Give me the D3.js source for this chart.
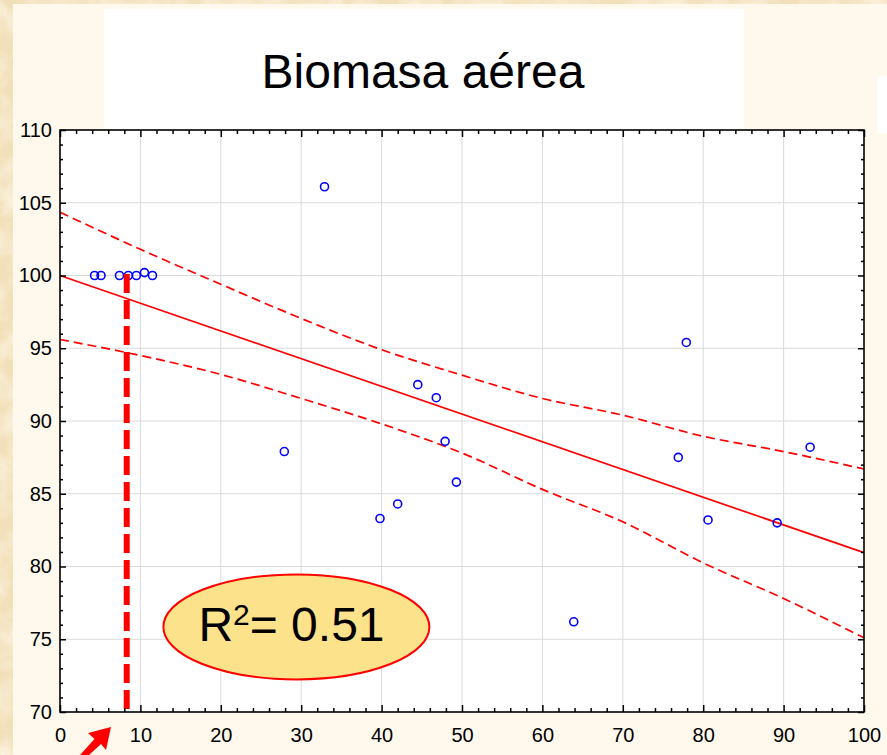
<!DOCTYPE html>
<html>
<head>
<meta charset="utf-8">
<script src="https://cdn.jsdelivr.net/npm/d3@7"></script>
<style>
  html, body { margin: 0; padding: 0; background: #f4e4c2; }
  svg { display: block; }
</style>
</head>
<body>
<svg id="chart" width="887" height="755"></svg>
<script>
// Observations: cover (%) vs aboveground biomass
const pointsX = [4.3, 5.1, 7.4, 8.5, 9.5, 10.5, 11.5, 27.9, 32.9, 39.8, 42.0, 44.5, 46.8, 47.9, 49.3, 63.9, 76.9, 77.9, 80.6, 89.2, 93.3];
const pointsY = [100.0, 100.0, 100.0, 100.0, 100.0, 100.2, 100.0, 87.9, 106.1, 83.3, 84.3, 92.5, 91.6, 88.6, 85.8, 76.2, 87.5, 95.4, 83.2, 83.0, 88.2];

// Fitted line and its confidence band
const fitX = [0, 100];
const fitY = [100.0, 80.95];
const bandX = [0, 10, 20, 30, 40, 50, 60, 70, 80, 90, 100];
const bandUpper = [104.35, 101.8, 99.4, 97.05, 94.9, 93.15, 91.55, 90.4, 88.95, 87.9, 86.7];
const bandLower = [95.6, 94.5, 93.2, 91.55, 89.8, 87.8, 85.3, 83.07, 80.25, 77.8, 75.1];

// Threshold marker
const markerX = 8.3;
const markerTop = 100.1;

// Axis ticks
const xTicks = [0, 10, 20, 30, 40, 50, 60, 70, 80, 90, 100];
const yTicks = [70, 75, 80, 85, 90, 95, 100, 105, 110];
const xMinor = d3.range(0, 101, 2).filter(v => v % 10 !== 0);
const yMinor = d3.range(70, 111, 1).filter(v => v % 5 !== 0);

const titleText = "Biomasa aérea";
const r2Value = 0.51;

const svg = d3.select("#chart");
const W = 887, H = 755;
const plotL = 60, plotR = 864, plotT = 130, plotB = 712;
const FONT = "'Liberation Sans', Arial, sans-serif";

// Parchment background
const defs = svg.append("defs");
const tex = defs.append("filter").attr("id", "paper").attr("x", 0).attr("y", 0).attr("width", "100%").attr("height", "100%");
tex.append("feTurbulence").attr("type", "fractalNoise").attr("baseFrequency", "0.035").attr("numOctaves", 4).attr("seed", 7).attr("result", "noise");
tex.append("feColorMatrix").attr("in", "noise").attr("type", "matrix")
  .attr("values", "0 0 0 0 0.99  0 0 0 0 0.93  0 0 0 0 0.80  0 0 0 -1.6 1.0").attr("result", "spots");
tex.append("feComposite").attr("in", "spots").attr("in2", "SourceGraphic").attr("operator", "over");

svg.append("rect").attr("width", W).attr("height", H).attr("fill", "#f2e0ba").attr("filter", "url(#paper)");
// Cream panel
svg.append("rect").attr("x", 13).attr("y", 4).attr("width", W - 13).attr("height", H - 4).attr("fill", "#fef9ec");
// Small white box at the right edge
svg.append("rect").attr("x", 877).attr("y", 76).attr("width", 10).attr("height", 57).attr("fill", "#ffffff");

// Title box
svg.append("rect").attr("x", 104).attr("y", 9).attr("width", 640).attr("height", 122).attr("fill", "#ffffff");
svg.append("text").attr("x", 423).attr("y", 88).attr("text-anchor", "middle")
  .attr("font-family", FONT).attr("font-size", 48).attr("fill", "#000").text(titleText);

// Scales
const x = d3.scaleLinear().domain([0, 100]).range([plotL, plotR]);
const y = d3.scaleLinear().domain([70, 110]).range([plotB, plotT]);

// Plot area
svg.append("rect").attr("x", plotL).attr("y", plotT).attr("width", plotR - plotL).attr("height", plotB - plotT).attr("fill", "#ffffff");

// Grid
const grid = svg.append("g").attr("stroke", "#dadada").attr("stroke-width", 1);
grid.selectAll("line.gx").data(xTicks.slice(1, -1)).join("line").attr("class", "gx")
  .attr("x1", d => x(d)).attr("x2", d => x(d)).attr("y1", plotT).attr("y2", plotB);
grid.selectAll("line.gy").data(yTicks.slice(1, -1)).join("line").attr("class", "gy")
  .attr("y1", d => y(d)).attr("y2", d => y(d)).attr("x1", plotL).attr("x2", plotR);

// Confidence band (dashed) and fitted line
const bandLine = d3.line().curve(d3.curveMonotoneX).x(d => x(d[0])).y(d => y(d[1]));
[bandUpper, bandLower].forEach(vals => {
  svg.append("path").datum(bandX.map((v, i) => [v, vals[i]]))
    .attr("d", bandLine).attr("fill", "none").attr("stroke", "#ff0000")
    .attr("stroke-width", 1.7).attr("stroke-dasharray", "9,5");
});
svg.append("path").datum(fitX.map((v, i) => [v, fitY[i]]))
  .attr("d", d3.line().x(d => x(d[0])).y(d => y(d[1])))
  .attr("fill", "none").attr("stroke", "#ff0000").attr("stroke-width", 1.7);

// Observations
svg.append("g").selectAll("circle").data(pointsX.map((v, i) => [v, pointsY[i]])).join("circle")
  .attr("cx", d => x(d[0])).attr("cy", d => y(d[1])).attr("r", 4)
  .attr("fill", "none").attr("stroke", "#0000ff").attr("stroke-width", 1.6);

// Threshold marker
svg.append("line").attr("x1", x(markerX)).attr("x2", x(markerX)).attr("y1", y(markerTop)).attr("y2", plotB)
  .attr("stroke", "#ff0000").attr("stroke-width", 6).attr("stroke-dasharray", "19,7");

// Axes
function styleAxis(g) {
  g.select(".domain").remove();
  g.selectAll(".tick line").attr("stroke", "#000").attr("stroke-width", 1.5);
  g.selectAll(".tick text").attr("font-family", FONT).attr("font-size", 20).attr("fill", "#000");
}
svg.append("g").attr("transform", `translate(0,${plotB})`)
  .call(d3.axisBottom(x).tickValues(xTicks).tickSizeInner(-7).tickSizeOuter(0).tickPadding(16)).call(styleAxis);
svg.append("g").attr("transform", `translate(0,${plotB})`)
  .call(d3.axisBottom(x).tickValues(xMinor).tickSizeInner(-4).tickSizeOuter(0).tickFormat("")).call(styleAxis);
svg.append("g").attr("transform", `translate(0,${plotT})`)
  .call(d3.axisTop(x).tickValues(xTicks).tickSizeInner(-7).tickSizeOuter(0).tickFormat("")).call(styleAxis);
svg.append("g").attr("transform", `translate(0,${plotT})`)
  .call(d3.axisTop(x).tickValues(xMinor).tickSizeInner(-4).tickSizeOuter(0).tickFormat("")).call(styleAxis);
svg.append("g").attr("transform", `translate(${plotL},0)`)
  .call(d3.axisLeft(y).tickValues(yTicks).tickSizeInner(-6).tickSizeOuter(0).tickPadding(8)).call(styleAxis);
svg.append("g").attr("transform", `translate(${plotL},0)`)
  .call(d3.axisLeft(y).tickValues(yMinor).tickSizeInner(-3).tickSizeOuter(0).tickFormat("")).call(styleAxis);
svg.append("g").attr("transform", `translate(${plotR},0)`)
  .call(d3.axisRight(y).tickValues(yTicks).tickSizeInner(-6).tickSizeOuter(0).tickFormat("")).call(styleAxis);
svg.append("g").attr("transform", `translate(${plotR},0)`)
  .call(d3.axisRight(y).tickValues(yMinor).tickSizeInner(-3).tickSizeOuter(0).tickFormat("")).call(styleAxis);

// Frame
svg.append("rect").attr("x", plotL).attr("y", plotT).attr("width", plotR - plotL).attr("height", plotB - plotT)
  .attr("fill", "none").attr("stroke", "#000").attr("stroke-width", 1.6);

// R² callout
const ecx = x(29.4), ecy = y(75.85);
svg.append("ellipse").attr("cx", ecx).attr("cy", ecy).attr("rx", 133).attr("ry", 52.5)
  .attr("fill", "#fde28c").attr("stroke", "#ff0000").attr("stroke-width", 2);
const rt = svg.append("text").attr("x", ecx - 98).attr("y", ecy + 14.5)
  .attr("font-family", FONT).attr("font-size", 48).attr("fill", "#000");
rt.append("tspan").text("R");
rt.append("tspan").attr("font-size", 30).attr("dy", -16).text("2");
rt.append("tspan").attr("dy", 16).text("= " + r2Value.toFixed(2));

// Pointer arrow below the axis
svg.append("path")
  .attr("d", "M111,727 L88,733 L94.5,739 L80,755 L89,755 L101,744 L106,750 Z")
  .attr("fill", "#ff0000");
</script>
</body>
</html>
